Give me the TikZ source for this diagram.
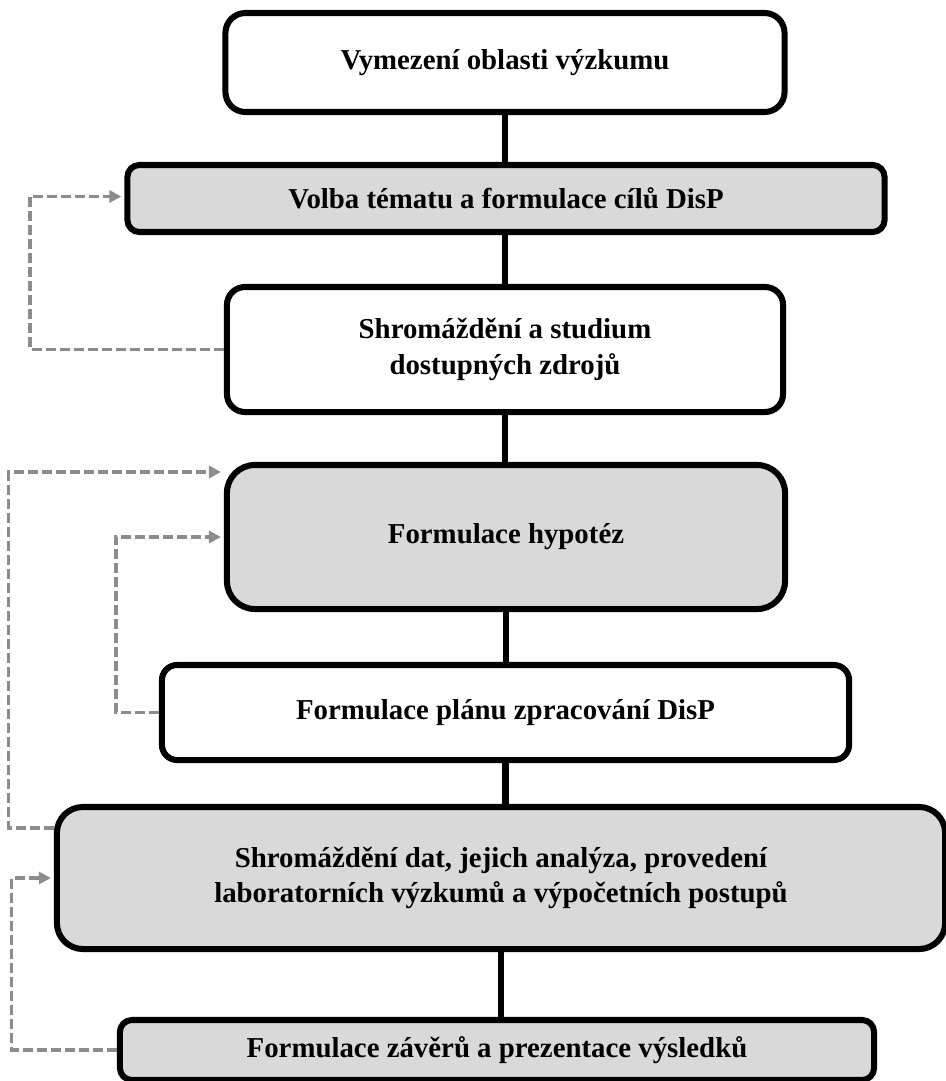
\documentclass[tikz,border=0pt]{standalone}
\usepackage{fontspec}
\setmainfont{Liberation Serif}
\usepackage{xcolor}
\usetikzlibrary{arrows.meta, positioning}
\definecolor{cFill}{RGB}{217,217,217}
\definecolor{cDash}{RGB}{140,140,140}
\tikzset{
	stage/.style    ={rectangle, draw=black, line width=4.3pt, align=center, inner sep=0pt, fill=white},
	stagegray/.style={stage, fill=cFill},
	link/.style     ={line width=4.3pt},
	% dashed feedback loops
	back/.style     ={-{Triangle[length=0.3cm, width=0.3cm]}, draw=cDash, line width=2.3pt, dash pattern=on 0.25cm off 0.1cm, shorten >=2.1pt},
}
\begin{document}
\begin{tikzpicture}[x=0.025cm, y=-0.025cm, font=\bfseries\fontsize{20.5}{25}\selectfont]
	\useasboundingbox (0,0) rectangle (946,1081);
	\node[stage, rounded corners=0.5cm, minimum width=13.975cm, minimum height=2.475cm] (b1) at (505,62.5) {Vymezení oblasti výzkumu};
	\node[stagegray, rounded corners=0.3cm, minimum width=18.925cm, minimum height=1.675cm] (b2) at (506,198.5) {Volba tématu a formulace cílů DisP};
	\node[stage, rounded corners=0.45cm, minimum width=13.9cm, minimum height=3.125cm] (b3) at (505,349.5) {Shromáždění a studium\\dostupných zdrojů};
	\node[stagegray, rounded corners=0.7cm, minimum width=13.95cm, minimum height=3.6cm] (b4) at (506,537) {Formulace hypotéz};
	\node[stage, rounded corners=0.38cm, minimum width=17.175cm, minimum height=2.375cm] (b5) at (505.5,712.5) {Formulace plánu zpracování DisP};
	\node[stagegray, rounded corners=0.65cm, minimum width=22.2cm, minimum height=3.55cm] (b6) at (501,878) {Shromáždění dat, jejich analýza, provedení\\laboratorních výzkumů a výpočetních postupů};
	\node[stagegray, rounded corners=0.3cm, minimum width=18.85cm, minimum height=1.5cm] (b7) at (497,1050) {Formulace závěrů a prezentace výsledků};
	% main line
	\draw[link] (b1.south) -- (b1.south |- b2.north);
	\draw[link] (b2.south -| b3.south) -- (b3.north);
	\draw[link] (b3.south) -- (b3.south |- b4.north);
	\draw[link] (b4.south) -- (b4.south |- b5.north);
	\draw[link] (b5.south) -- (b5.south |- b6.north);
	\draw[link] (b6.south) -- (b6.south |- b7.north);
	% feedback
	\draw[back] (b3.west) -- ++(-194,0) |- ([yshift=0.05cm]b2.west);
	\draw[back] (b5.west) -- ++(-43,0) |- (b4.west);
	\draw[back] ([yshift=1.25cm]b6.west) -- ++(-45,0) |- ([yshift=1.625cm]b4.west);
	\draw[back] (b7.west) -- ++(-105,0) |- (b6.west);
\end{tikzpicture}
\end{document}
